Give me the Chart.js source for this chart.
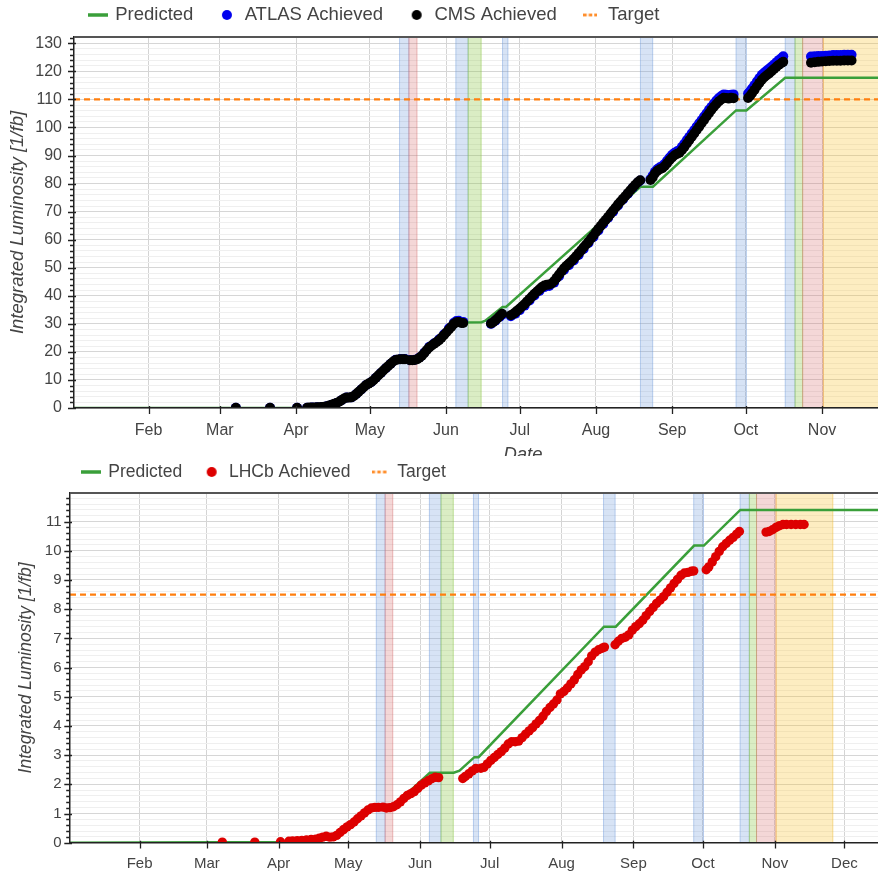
<!DOCTYPE html>
<html><head><meta charset="utf-8">
<script src="https://cdn.jsdelivr.net/npm/chart.js@4.4.1/dist/chart.umd.min.js"></script>
<style>
html,body{margin:0;padding:0;background:#fff;}
#wrap{position:relative;width:878px;height:875px;overflow:hidden;background:#fff;}
#topbox{position:absolute;left:0;top:0;width:980px;height:456px;overflow:hidden;}
#botbox{position:absolute;left:0;top:456px;width:925px;height:419px;overflow:hidden;}
canvas{display:block;}
</style></head><body>
<div id="wrap">
  <div id="topbox"><canvas id="c1" width="977" height="470"></canvas></div>
  <div id="botbox"><canvas id="c2" width="921" height="450"></canvas></div>
</div>
<script>
// ---------- data (x = days since 1 Jan 2024) ----------
const MONTH_DAYS   = [31, 60, 91, 121, 152, 182, 213, 244, 274, 305, 335];
const MONTH_LABELS = ['Feb','Mar','Apr','May','Jun','Jul','Aug','Sep','Oct','Nov','Dec'];

const BAND_START = [133.1, 136.9, 156.0, 161.0, 175.0, 231.1, 270.0, 290.0, 294.0, 297.1, 305.5];
const BAND_END   = [136.9, 140.2, 161.0, 166.3, 177.2, 236.1, 274.2, 294.0, 297.1, 305.5, 330.0];
const BAND_KIND  = ['blue','red','blue','green','blue','blue','blue','blue','green','red','yellow'];

const TARGET_GPD  = 110;
const TARGET_LHCB = 8.5;

const PRED_GPD = [[0.65,0],[95.5,0],[100.5,0.3],[104.5,0.9],[108.5,2.2],[111.5,3.7],[113.5,3.8],[119.5,8.2],[124.5,11.7],[130.5,16.6],[133,17.4],[140,17.2],[144,20.5],[150,25],[155.5,30.5],[166.5,30.6],[168,31.1],[175,36.0],[176.4,36.0],[231.2,78.9],[236.2,78.9],[270.0,106.1],[274.2,106.1],[290.0,117.7],[366,117.7]];

const CMS_ACHIEVED = [
[66.5,0.1],[80.4,0.1],[91.4,0.1],[95.5,0.1],[96.5,0.15],[97.5,0.2],[98.5,0.2],[99.5,0.25],[100.5,0.3],[101.5,0.35],[102.5,0.45],[103.5,0.6],[104.5,0.9],[105.5,1.2],[106.5,1.5],[107.5,1.8],[108.5,2.2],[109.5,2.8],[110.5,3.4],[111.5,3.7],[112.5,3.7],[113.5,3.8],[114.5,4.3],[115.5,5.0],[116.5,5.8],[117.5,6.6],[118.5,7.4],[119.5,8.2],[120.5,8.7],[121.5,9.2],[122.5,9.9],[123.5,10.8],[124.5,11.7],[125.5,12.5],[126.5,13.4],[127.5,14.2],[128.5,15.0],[129.5,15.8],[130.5,16.6],[131.5,17.1],[132.5,17.3],[133.5,17.4],[134.5,17.4],[135.3,17.4],
[137.3,17.0],[138.3,17.0],[139.3,17.1],[140.3,17.4],[141.2,17.9],[142.2,18.6],[143.2,19.6],[144.2,20.7],[145.2,21.6],[146.2,22.3],[147.2,22.9],[148.2,23.5],[149.2,24.2],[150.2,25.1],[151.2,26.0],[152.2,27.0],[153.2,28.0],[154.2,29.0],[155.2,30.0],[156.2,30.6],[157.2,30.7],[158.2,30.3],[159.0,30.3],
[170.3,30.1],[171.2,30.6],[172.1,31.3],[173.0,32.0],[173.9,32.8],[174.8,33.6],
[178.4,33.1],[179.3,33.5],[180.2,34.1],[181.1,34.8],[182.0,35.5],[183.0,36.3],[184.0,37.1],[185.0,38.0],[186.0,38.9],[187.0,39.8],[188.0,40.7],[189.0,41.5],[190.0,42.3],[191.0,43.1],[192.0,43.7],[193.0,43.9],[194.0,44.0],[195.0,44.4],[196.0,45.3],[197.0,46.4],[198.0,47.6],[199.0,48.7],[200.0,49.8],[201.0,50.7],[202.0,51.5],[203.0,52.3],[204.0,53.2],[205.0,54.2],[206.0,55.2],[207.0,56.2],[208.0,57.3],[209.0,58.3],[210.0,59.3],[211.0,60.4],[212.0,61.5],[213.0,62.7],[214.0,63.9],[215.0,65.0],[216.0,66.1],[217.0,67.1],[218.0,68.2],[219.0,69.3],[220.0,70.4],[221.0,71.5],[222.0,72.6],[223.0,73.6],[224.0,74.6],[225.0,75.6],[226.0,76.6],[227.0,77.6],[228.0,78.6],[229.0,79.6],[230.0,80.5],[231.0,81.2],
[235.2,81.3],[236.1,82.2],[237.0,83.6],[238.0,84.6],[239.0,85.1],[240.0,85.5],[241.0,86.3],[242.0,87.3],[243.0,88.4],[244.0,89.3],[245.0,90.1],[246.0,90.6],[247.0,91.0],[248.0,92.0],[249.0,93.1],[250.0,94.3],[251.0,95.5],[252.0,96.7],[253.0,97.9],[254.0,99.1],[255.0,100.3],[256.0,101.5],[257.0,102.7],[258.0,103.9],[259.0,105.1],[260.0,106.3],[261.0,107.4],[262.0,108.4],[263.0,109.3],[264.0,110.0],[265.0,110.6],[266.0,110.5],[267.0,110.3],[268.0,110.6],[269.0,110.4],
[274.9,110.5],[275.7,111.2],[276.5,112.2],[277.5,113.4],[278.5,114.7],[279.5,115.9],[280.5,117.0],[281.5,117.9],[282.5,118.6],[283.5,119.3],[284.5,120.1],[285.5,120.9],[286.5,121.7],[287.5,122.4],[288.5,123.0],[289.2,123.4],
[300.5,123.1],[302.0,123.3],[303.5,123.4],[305.0,123.5],[306.5,123.6],[308.0,123.7],[309.5,123.8],[311.0,123.8],[312.5,123.8],[314.0,123.9],[315.5,123.9],[317.0,123.9]
];

const ATLAS_ACHIEVED = [
[66.5,0.1],[80.4,0.1],[91.4,0.1],[95.5,0.1],[97.5,0.2],[99.5,0.25],[101.5,0.35],[103.5,0.6],[105.5,1.2],[107.5,1.8],[109.5,2.8],[111.5,3.7],[113.5,3.8],[115.5,5.0],[117.5,6.6],[119.5,8.2],[121.5,9.2],[123.5,10.8],[125.5,12.5],[127.5,14.2],[129.5,15.8],[131.5,17.2],[133.5,17.5],[135.3,17.5],
[137.3,17.1],[139.3,17.2],[141.2,18.0],[143.2,19.8],[145.2,21.8],[147.2,23.1],[149.2,24.5],[151.2,26.3],[153.2,28.4],[155.2,30.4],[156.2,31.0],[157.2,31.1],[159.0,30.7],
[170.3,30.0],[172.1,31.1],[173.9,32.5],[174.8,33.3],
[178.4,32.7],[180.2,33.6],[182.0,34.9],[184.0,36.5],[186.0,38.3],[188.0,40.1],[190.0,41.7],[192.0,43.1],[194.0,43.5],[196.0,44.7],[198.0,47.0],[200.0,49.2],[202.0,50.9],[204.0,52.6],[206.0,54.6],[208.0,56.7],[210.0,58.8],[212.0,61.0],[214.0,63.3],[216.0,65.6],[218.0,67.8],[220.0,70.0],[222.0,72.2],[224.0,74.3],[226.0,76.4],[228.0,78.5],[230.0,80.4],[231.0,81.1],
[235.2,81.6],[236.1,82.9],[237.0,84.2],[238.0,85.2],[239.0,85.8],[240.0,86.3],[241.0,87.1],[242.0,88.2],[243.0,89.3],[244.0,90.3],[245.0,91.0],[246.0,91.5],[247.0,92.0],[248.0,93.1],[249.0,94.3],[250.0,95.5],[251.0,96.7],[252.0,97.9],[253.0,99.1],[254.0,100.3],[255.0,101.5],[256.0,102.7],[257.0,103.9],[258.0,105.1],[259.0,106.3],[260.0,107.4],[261.0,108.5],[262.0,109.6],[263.0,110.5],[264.0,111.2],[265.0,111.8],[266.0,111.7],[267.0,111.5],[268.0,111.7],[269.0,111.8],
[274.9,112.1],[275.7,112.9],[276.5,113.9],[277.5,115.1],[278.5,116.4],[279.5,117.6],[280.5,118.8],[281.5,119.6],[282.5,120.3],[283.5,121.0],[284.5,121.7],[285.5,122.5],[286.5,123.3],[287.5,124.1],[288.5,124.8],[289.2,125.4],
[300.5,125.3],[302.0,125.4],[303.5,125.5],[305.0,125.5],[306.5,125.6],[308.0,125.7],[309.5,125.8],[311.0,125.8],[312.5,125.8],[314.0,125.9],[315.5,125.9],[317.0,125.9]
];

const PRED_LHCB = [[1,0],[95.4,0.02],[104,0.1],[110,0.19],[116,0.25],[120.5,0.54],[125,0.82],[131,1.19],[133,1.21],[140.5,1.23],[141.1,1.3],[156.2,2.40],[166.5,2.40],[169,2.47],[175.4,2.93],[177.2,2.93],[231.3,7.40],[236.4,7.40],[270.2,10.18],[274.4,10.18],[290.1,11.40],[366,11.40]];

const LHCB_ACHIEVED = [
[66.7,0.02],[80.7,0.02],[91.8,0.03],[95.4,0.05],[97,0.06],[99,0.07],[101,0.08],[103,0.09],[105,0.11],[107,0.12],[108.5,0.15],[110,0.19],[111.5,0.22],[113,0.19],[114.5,0.2],[116,0.25],[117.5,0.35],[119,0.45],[120.5,0.54],[122,0.62],[123.5,0.71],[125,0.82],[126.5,0.92],[128,1.02],[129.5,1.12],[131,1.19],[132.5,1.21],[134,1.21],[136,1.22],[137.5,1.19],[139,1.20],[140.5,1.23],[142,1.30],[143.5,1.40],[145,1.52],[146.5,1.62],[148,1.68],[149.5,1.75],[151,1.86],[152.5,1.97],[154,2.05],[155.5,2.12],[157,2.19],[158.5,2.24],[160,2.23],
[170.4,2.20],[171.5,2.27],[173,2.36],[174.5,2.46],[176,2.54],
[178.2,2.55],[179.5,2.58],[181,2.70],[182.5,2.82],[184,2.92],[185.5,3.02],[187,3.12],[188.5,3.24],[190,3.38],[191.5,3.46],[193,3.46],[194.5,3.48],[196,3.60],[197.5,3.72],[199,3.83],[200.5,3.94],[202,4.07],[203.5,4.19],[205,4.33],[206.5,4.50],[208,4.63],[209.5,4.75],[211,4.89],[212.5,5.10],[214,5.18],[215.5,5.30],[217,5.44],[218.5,5.58],[220,5.76],[221.5,5.92],[223,6.03],[224.5,6.20],[226,6.40],[227.5,6.53],[229,6.61],[230.5,6.66],[231.5,6.70],
[236.1,6.78],[237.5,6.90],[239,7.00],[240.5,7.04],[242,7.12],[243.5,7.28],[245,7.40],[246.5,7.50],[248,7.62],[249.5,7.78],[251,7.92],[252.5,8.06],[254,8.20],[255.5,8.31],[257,8.43],[258.5,8.58],[260,8.73],[261.5,8.88],[263,9.02],[264.5,9.16],[266,9.24],[267.5,9.26],[269,9.30],[270,9.31],
[275.4,9.35],[276.5,9.45],[278,9.62],[279.5,9.80],[281,9.98],[282.5,10.14],[284,10.25],[285.5,10.36],[287,10.46],[288.5,10.57],[289.7,10.66],
[301.2,10.64],[302.5,10.66],[304,10.72],[305.5,10.80],[307,10.86],[308.5,10.90],[310,10.90],[312,10.90],[314,10.90],[316,10.90],[317.6,10.90]
];

// ---------- styling ----------
const FONT = '"Liberation Sans", Arial, Helvetica, sans-serif';
const TXT = '#444';
const BAND_FILL = {blue:'rgba(110,155,220,0.28)', red:'rgba(215,110,110,0.28)', green:'rgba(140,200,70,0.32)', yellow:'rgba(250,195,50,0.30)'};
const BAND_EDGE = {blue:'rgba(110,155,220,0.45)', red:'rgba(215,110,110,0.45)', green:'rgba(140,200,70,0.5)', yellow:'rgba(240,190,60,0.5)'};
const C_PRED = '#3a9f3a', C_TARGET = '#ff7f0e';

const toXY = arr => arr.map(([x, y]) => ({x, y}));
const isMajor = (v, step) => Math.abs(v / step - Math.round(v / step)) < 1e-6;

function lineSwatch(color, w, lw, dash) {
  const c = document.createElement('canvas'); c.width = w; c.height = Math.ceil(lw) + 2;
  const g = c.getContext('2d'); g.strokeStyle = color; g.lineWidth = lw; if (dash) g.setLineDash(dash);
  g.beginPath(); g.moveTo(0, c.height / 2); g.lineTo(w, c.height / 2); g.stroke(); return c;
}
function dotSwatch(color, r) {
  const s = Math.ceil(2 * r) + 2; const c = document.createElement('canvas'); c.width = s; c.height = s;
  const g = c.getContext('2d'); g.fillStyle = color; g.beginPath(); g.arc(s / 2, s / 2, r, 0, Math.PI * 2); g.fill(); return c;
}

const bandsPlugin = {
  id: 'bands',
  beforeDatasetsDraw(chart) {
    const {ctx, chartArea: a, scales: {x}} = chart;
    ctx.save(); ctx.beginPath(); ctx.rect(a.left, a.top, a.right - a.left, a.bottom - a.top); ctx.clip();
    BAND_START.forEach((s, i) => {
      const x0 = x.getPixelForValue(s), x1 = x.getPixelForValue(BAND_END[i]);
      const k = BAND_KIND[i];
      ctx.fillStyle = BAND_FILL[k]; ctx.fillRect(x0, a.top, x1 - x0, a.bottom - a.top);
      ctx.strokeStyle = BAND_EDGE[k]; ctx.lineWidth = 1;
      ctx.beginPath(); ctx.moveTo(x0, a.top); ctx.lineTo(x0, a.bottom); ctx.moveTo(x1, a.top); ctx.lineTo(x1, a.bottom); ctx.stroke();
    });
    ctx.restore();
  }
};

const framePlugin = {
  id: 'frame',
  afterDraw(chart, args, o) {
    const {ctx, chartArea: a, scales: {x, y}} = chart;
    ctx.save();
    ctx.strokeStyle = '#555'; ctx.lineWidth = 2;
    ctx.beginPath(); ctx.moveTo(a.left, a.top); ctx.lineTo(a.right, a.top); ctx.stroke();
    ctx.strokeStyle = '#222'; ctx.lineWidth = 1.3;
    ctx.beginPath();
    y.ticks.forEach(t => {
      const py = Math.round(y.getPixelForValue(t.value)) + 0.5;
      const maj = isMajor(t.value, o.major);
      ctx.moveTo(a.left - (maj ? o.majOut : o.minOut), py); ctx.lineTo(a.left + (maj ? 2 : 0), py);
    });
    x.ticks.forEach(t => {
      const px = Math.round(x.getPixelForValue(t.value)) + 0.5;
      ctx.moveTo(px, a.bottom - 2); ctx.lineTo(px, a.bottom + o.majOut);
    });
    ctx.stroke();
    ctx.restore();
  }
};

const legendPosPlugin = {
  id: 'legendPos',
  afterLayout(chart, args, o) {
    const lg = chart.legend; if (!lg) return;
    const P = lg.options.labels.padding, fs = lg.options.labels.font.size;
    lg.left = o.x - P; lg.top = o.y - P - fs / 2;
  }
};

function makeChart(id, p) {
  return new Chart(document.getElementById(id), {
    type: 'scatter',
    data: { datasets: p.datasets },
    plugins: [bandsPlugin, framePlugin, legendPosPlugin],
    options: {
      responsive: false, animation: false, events: [],
      layout: { padding: 0 },
      plugins: {
        tooltip: { enabled: false },
        legend: {
          display: true, position: 'top', align: 'start', maxHeight: p.top,
          labels: {
            usePointStyle: true, pointStyleWidth: 17, padding: p.legPad,
            font: { family: FONT, size: p.legFont }, color: TXT,
            generateLabels: () => p.legend.map((it, i) => ({
              text: it.text, pointStyle: it.swatch, fillStyle: 'rgba(0,0,0,0)', strokeStyle: 'rgba(0,0,0,0)',
              lineWidth: 0, fontColor: TXT, hidden: false, datasetIndex: i
            }))
          }
        },
        legendPos: { x: p.legX, y: p.legY },
        frame: { major: p.major, majOut: p.majOut, minOut: p.minOut }
      },
      scales: {
        x: {
          type: 'linear', position: 'bottom', min: p.xmin, max: p.xmax,
          afterFit: s => { s.height = p.xh; },
          afterBuildTicks: s => { s.ticks = MONTH_DAYS.filter(d => d >= p.xmin && d <= p.xmax).map(v => ({value: v})); },
          ticks: { autoSkip: false, maxRotation: 0, minRotation: 0, padding: p.xTickPad, color: TXT,
                   font: { family: FONT, size: p.tickFont },
                   callback: v => { const i = MONTH_DAYS.indexOf(v); return i >= 0 ? MONTH_LABELS[i] : ''; } },
          grid: { drawTicks: false, color: '#d4d4d4', lineWidth: 1 },
          border: { color: '#222', width: 1.5, z: 1 },
          title: { display: true, text: 'Date', color: TXT, font: { family: FONT, size: p.titleFont, style: 'italic' },
                   padding: { top: 0, bottom: p.xTitlePad } }
        },
        y: {
          type: 'linear', position: 'left', min: 0, max: p.ymax,
          afterFit: s => { s.width = p.left; },
          afterBuildTicks: s => {
            const t = []; const n = Math.floor(p.ymax / p.minor + 1e-9);
            for (let i = 0; i <= n; i++) t.push({ value: Math.round(i * p.minor * 1000) / 1000 });
            s.ticks = t;
          },
          ticks: { autoSkip: false, padding: p.yTickPad, color: TXT, font: { family: FONT, size: p.tickFont },
                   callback: v => isMajor(v, p.major) ? String(Math.round(v)) : '' },
          grid: { drawTicks: false, lineWidth: 1,
                  color: c => (c.tick && isMajor(c.tick.value, p.major)) ? '#d6d6d6' : '#efefef' },
          border: { color: '#222', width: 1.5, z: 1 },
          title: { display: true, text: 'Integrated Luminosity [1/fb]', color: TXT,
                   font: { family: FONT, size: p.titleFont, style: 'italic' }, padding: { top: p.yTitlePad, bottom: 0 } }
        }
      }
    }
  });
}

// ---------- top chart (ATLAS / CMS) ----------
const X1MIN = 0.65, X1MAX = 366;
makeChart('c1', {
  xmin: X1MIN, xmax: X1MAX, ymax: 132.26, major: 10, minor: 2,
  top: 37, left: 74, xh: 62,
  legPad: 25, legFont: 18.5, legX: 89, legY: 15,
  tickFont: 16, titleFont: 18.5, xTickPad: 13, yTickPad: 12, yTitlePad: 6.4, xTitlePad: 4,
  majOut: 6, minOut: 4,
  legend: [
    { text: 'Predicted',      swatch: lineSwatch(C_PRED, 20, 3.5) },
    { text: 'ATLAS Achieved', swatch: dotSwatch('#0000ee', 5) },
    { text: 'CMS Achieved',   swatch: dotSwatch('#000000', 5) },
    { text: 'Target',         swatch: lineSwatch(C_TARGET, 14, 2.5, [3.5, 2]) }
  ],
  datasets: [
    { label: 'CMS Achieved', data: toXY(CMS_ACHIEVED), pointRadius: 5, pointBackgroundColor: '#000', pointBorderWidth: 0, showLine: false, order: 0, clip: 0 },
    { label: 'ATLAS Achieved', data: toXY(ATLAS_ACHIEVED), pointRadius: 5, pointBackgroundColor: '#0000ee', pointBorderWidth: 0, showLine: false, order: 1, clip: 0 },
    { label: 'Target', data: [{x: X1MIN, y: TARGET_GPD}, {x: X1MAX, y: TARGET_GPD}], showLine: true, borderColor: C_TARGET, borderWidth: 2.2, borderDash: [6, 4], pointRadius: 0, order: 2 },
    { label: 'Predicted', data: toXY(PRED_GPD), showLine: true, borderColor: C_PRED, borderWidth: 2.5, pointRadius: 0, order: 3, clip: 0 }
  ]
});

// ---------- bottom chart (LHCb) ----------
const X2MIN = 1.0, X2MAX = 366;
makeChart('c2', {
  xmin: X2MIN, xmax: X2MAX, ymax: 11.98, major: 1, minor: 0.2,
  top: 37, left: 70, xh: 63.3,
  legPad: 21, legFont: 17.5, legX: 82.5, legY: 16,
  tickFont: 15, titleFont: 17.5, xTickPad: 12.3, yTickPad: 8.5, yTitlePad: 15.3, xTitlePad: 4,
  majOut: 5.7, minOut: 3.8,
  legend: [
    { text: 'Predicted',     swatch: lineSwatch(C_PRED, 20, 3.5) },
    { text: 'LHCb Achieved', swatch: dotSwatch('#dd0000', 5) },
    { text: 'Target',        swatch: lineSwatch(C_TARGET, 17, 2.5, [3.5, 2.2]) }
  ],
  datasets: [
    { label: 'LHCb Achieved', data: toXY(LHCB_ACHIEVED), pointRadius: 4.7, pointBackgroundColor: '#dd0000', pointBorderWidth: 0, showLine: false, order: 0, clip: 0 },
    { label: 'Target', data: [{x: X2MIN, y: TARGET_LHCB}, {x: X2MAX, y: TARGET_LHCB}], showLine: true, borderColor: C_TARGET, borderWidth: 2.2, borderDash: [6, 4], pointRadius: 0, order: 2 },
    { label: 'Predicted', data: toXY(PRED_LHCB), showLine: true, borderColor: C_PRED, borderWidth: 2.5, pointRadius: 0, order: 3, clip: 0 }
  ]
});
</script>
</body></html>
